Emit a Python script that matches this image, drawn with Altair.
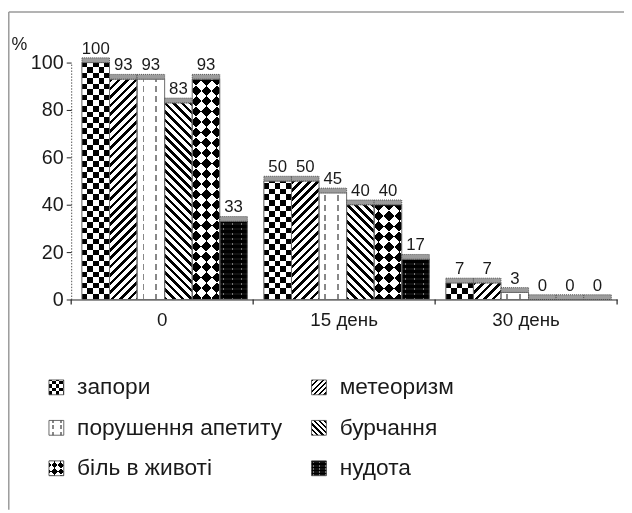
import math
import altair as alt
import pandas as pd

# ---------------- data ----------------
groups = ["0", "15 день", "30 день"]
series = ["запори", "метеоризм", "порушення апетиту", "бурчання", "біль в животі", "нудота"]
zapory = [100, 50, 7]
meteoryzm = [93, 50, 7]
apetyt = [93, 45, 3]
burchannia = [83, 40, 0]
bil = [93, 40, 0]
nudota = [33, 17, 0]
y_ticks = [0, 20, 40, 60, 80, 100]
legend_col = [0, 1, 0, 1, 0, 1]
legend_row = [0, 0, 1, 1, 2, 2]

series_values = [zapory, meteoryzm, apetyt, burchannia, bil, nudota]
rows = []
for s, vals in zip(series, series_values):
    for g, v in zip(groups, vals):
        rows.append({"group": g, "series": s, "value": v})
df = pd.DataFrame(rows)
legend_df = pd.DataFrame({"series": series, "col": legend_col, "row": legend_row})
bounds_df = pd.DataFrame({"group": groups})

# ---------------- layout / style ----------------
W, H = 553, 240
PPU = H / 100.0
PAD_OUT = 0.3
BAR_W = W / 3 / (6 + 2 * PAD_OUT)
FONT = "Liberation Sans"
TXT = "#1a1a1a"
SW = 15  # legend swatch side


def seg_stops(L, segments):
    stops = []
    u = 0.0
    i = 0
    while u < L - 1e-6:
        ln, c = segments[i % len(segments)]
        e = min(u + ln, L)
        stops.append((u / L, c))
        stops.append((e / L, c))
        u = e
        i += 1
    return "[" + ",".join("{offset:%.5f,color:'%s'}" % (o, c) for o, c in stops) + "]"


def g_v(segments, w):
    return "{gradient:'linear',x1:0,y1:0,x2:1,y2:0,stops:%s}" % seg_stops(w, segments)


def g_h(segments, L, hx):
    return "{gradient:'linear',x1:0,y1:1-%.4f/(%s),x2:0,y2:1,stops:%s}" % (
        L, hx, seg_stops(L, segments))


def g_d(segments, L, w, hx, rising=True):
    den = "(%.4f+(%s)*(%s))" % (w * w, hx, hx)
    x2 = "%.4f/%s" % (L * w, den)
    dy = "%.4f*(%s)/%s" % (L, hx, den)
    st = seg_stops(L, segments)
    if rising:
        return "{gradient:'linear',x1:0,y1:0,x2:%s,y2:%s,stops:%s}" % (x2, dy, st)
    return "{gradient:'linear',x1:0,y1:1,x2:%s,y2:1-%s,stops:%s}" % (x2, dy, st)


def mult(P, hmax):
    return P * math.ceil((hmax + 1) / P)


def patterns(name, w, hx, hmax, k):
    Ld = w + hmax + 4
    if name == "запори":
        c = 5.6 * k
        return [(g_h([(c, "#000"), (c, "#fff")], mult(2 * c, hmax), hx), None),
                (g_v([(c, "#fff"), (c, "#000")], w), "difference")]
    if name == "метеоризм":
        return [(g_d([(3.6 * k, "#000"), (5.0 * k, "#fff")], Ld, w, hx, True), None)]
    if name == "порушення апетиту":
        return [(g_v([(5.5 * k, "#fff"), (2 * k, "#888"), (11 * k, "#fff"),
                      (2 * k, "#888"), (20 * k, "#fff")], w), None),
                (g_h([(4 * k, "#fff"), (6 * k, "#000")], mult(10 * k, hmax), hx), "lighten")]
    if name == "бурчання":
        return [(g_d([(3.6 * k, "#000"), (5.0 * k, "#fff")], Ld, w, hx, False), None)]
    if name == "біль в животі":
        P = 21 * k
        return [(g_d([(P / 2, "#000"), (P / 2, "#fff")], Ld, w, hx, True), None),
                (g_d([(P / 2, "#fff"), (P / 2, "#000")], Ld, w, hx, False), "difference")]
    # нудота
    return [(g_v([(3 * k, "#111"), (1.6 * k, "#777"), (4.5 * k, "#111")], w), None),
            (g_h([(3 * k, "#000"), (2 * k, "#fff")], mult(5 * k, hmax), hx), "darken")]


# ---------------- encodings ----------------
X_SCALE = alt.Scale(domain=groups, paddingInner=0, paddingOuter=0)
X_AXIS = alt.Axis(title=None, labelAngle=0, ticks=False, domainColor="#222",
                  labelFontSize=19, labelFont=FONT, labelColor=TXT, labelPadding=11)
Y_AXIS = alt.Axis(title="%", values=y_ticks, grid=False, domainDash=[1.5, 1.5],
                  domainColor="#555", tickColor="#222", tickSize=5, labelFontSize=20,
                  labelFont=FONT, labelColor=TXT, labelPadding=3, titleAngle=0,
                  titleX=-61, titleY=-13, titleAlign="left", titleBaseline="alphabetic",
                  titleFontSize=18, titleFontWeight="normal", titleFont=FONT, titleColor=TXT)
X = alt.X("group:N", scale=X_SCALE, axis=X_AXIS)
XO = alt.XOffset("series:N", scale=alt.Scale(domain=series, paddingInner=0,
                                             paddingOuter=PAD_OUT, align=0.65))
Y = alt.Y("value:Q", scale=alt.Scale(domain=[0, 100], nice=False), axis=Y_AXIS)

base = alt.Chart(df)
layers = []
hx_bar = "datum.value*%.4f" % PPU
for s in series:
    for expr, blend in patterns(s, BAR_W, hx_bar, H, 1.0):
        kw = {"blend": blend} if blend else {}
        full = "datum.value > 0 ? %s : '#000'" % expr
        layers.append(
            base.transform_filter(alt.datum.series == s)
            .mark_bar(fill={"expr": full}, strokeWidth=0, **kw)
            .encode(x=X, xOffset=XO, y=Y)
        )

outline = base.mark_bar(fill="transparent", stroke="#6a6a6a", strokeWidth=1).encode(
    x=X, xOffset=XO, y=Y)
caps = base.transform_calculate(top="datum.value + 2").mark_bar(
    fill="#9c9c9c", stroke="#444", strokeWidth=0.9, strokeDash=[1, 1]
).encode(x=X, xOffset=XO, y=Y, y2="top:Q")
labels = base.mark_text(dy=-9, baseline="alphabetic", fontSize=17, font=FONT,
                        color=TXT).encode(x=X, xOffset=XO, y=Y, text="value:Q")

ticks_left = alt.Chart(bounds_df).mark_rule(color="#222", strokeWidth=1.2).encode(
    x=alt.X("group:N", bandPosition=0, scale=X_SCALE, axis=X_AXIS),
    y=alt.value(H), y2=alt.value(H + 5))
ticks_right = alt.Chart(bounds_df).transform_filter(alt.datum.group == groups[-1]).mark_rule(
    color="#222", strokeWidth=1.2).encode(
    x=alt.X("group:N", bandPosition=1, scale=X_SCALE, axis=X_AXIS),
    y=alt.value(H), y2=alt.value(H + 5))

frame_df = pd.DataFrame({"k": [0]})
frame_top = alt.Chart(frame_df).mark_rule(color="#9a9a9a", strokeWidth=1.5).encode(
    x=alt.value(-63.2), x2=alt.value(W + 7), y=alt.value(-51.2))
frame_left = alt.Chart(frame_df).mark_rule(color="#9a9a9a", strokeWidth=1.5).encode(
    x=alt.value(-63.2), y=alt.value(-51.2), y2=alt.value(H + 213))

main = alt.layer(*layers, outline, caps, labels, ticks_left, ticks_right, frame_top, frame_left)

# ---------------- legend ----------------
LX = alt.X("col:Q", scale=alt.Scale(domain=[0, 1], range=[-15, 251]), axis=None)
LY = alt.Y("row:Q", scale=alt.Scale(domain=[0, 2], range=[329, 411]), axis=None)
lbase = alt.Chart(legend_df)
leg_layers = []
for s in series:
    for expr, blend in patterns(s, SW, str(SW), SW, 0.62):
        kw = {"blend": blend} if blend else {}
        leg_layers.append(
            lbase.transform_filter(alt.datum.series == s)
            .mark_square(size=SW * SW, fill={"expr": expr}, opacity=1, strokeWidth=0, **kw)
            .encode(x=LX, y=LY)
        )
leg_out = lbase.mark_square(size=SW * SW, fill="transparent", opacity=1, stroke="#444",
                            strokeWidth=0.8).encode(x=LX, y=LY)
leg_text = lbase.mark_text(align="left", baseline="middle", dx=21, fontSize=23, font=FONT,
                           color=TXT).encode(x=LX, y=LY, text="series:N")
legend = alt.layer(*leg_layers, leg_out, leg_text)

chart = alt.layer(main, legend).resolve_scale(x="independent", y="independent").properties(
    width=W, height=H,
    padding={"left": 64, "top": 52, "right": 7, "bottom": 213},
    autosize=alt.AutoSizeParams(type="none"),
    background="white",
).configure_view(stroke="transparent")

chart.save("out.html", embed_options={"renderer": "svg", "actions": False})
